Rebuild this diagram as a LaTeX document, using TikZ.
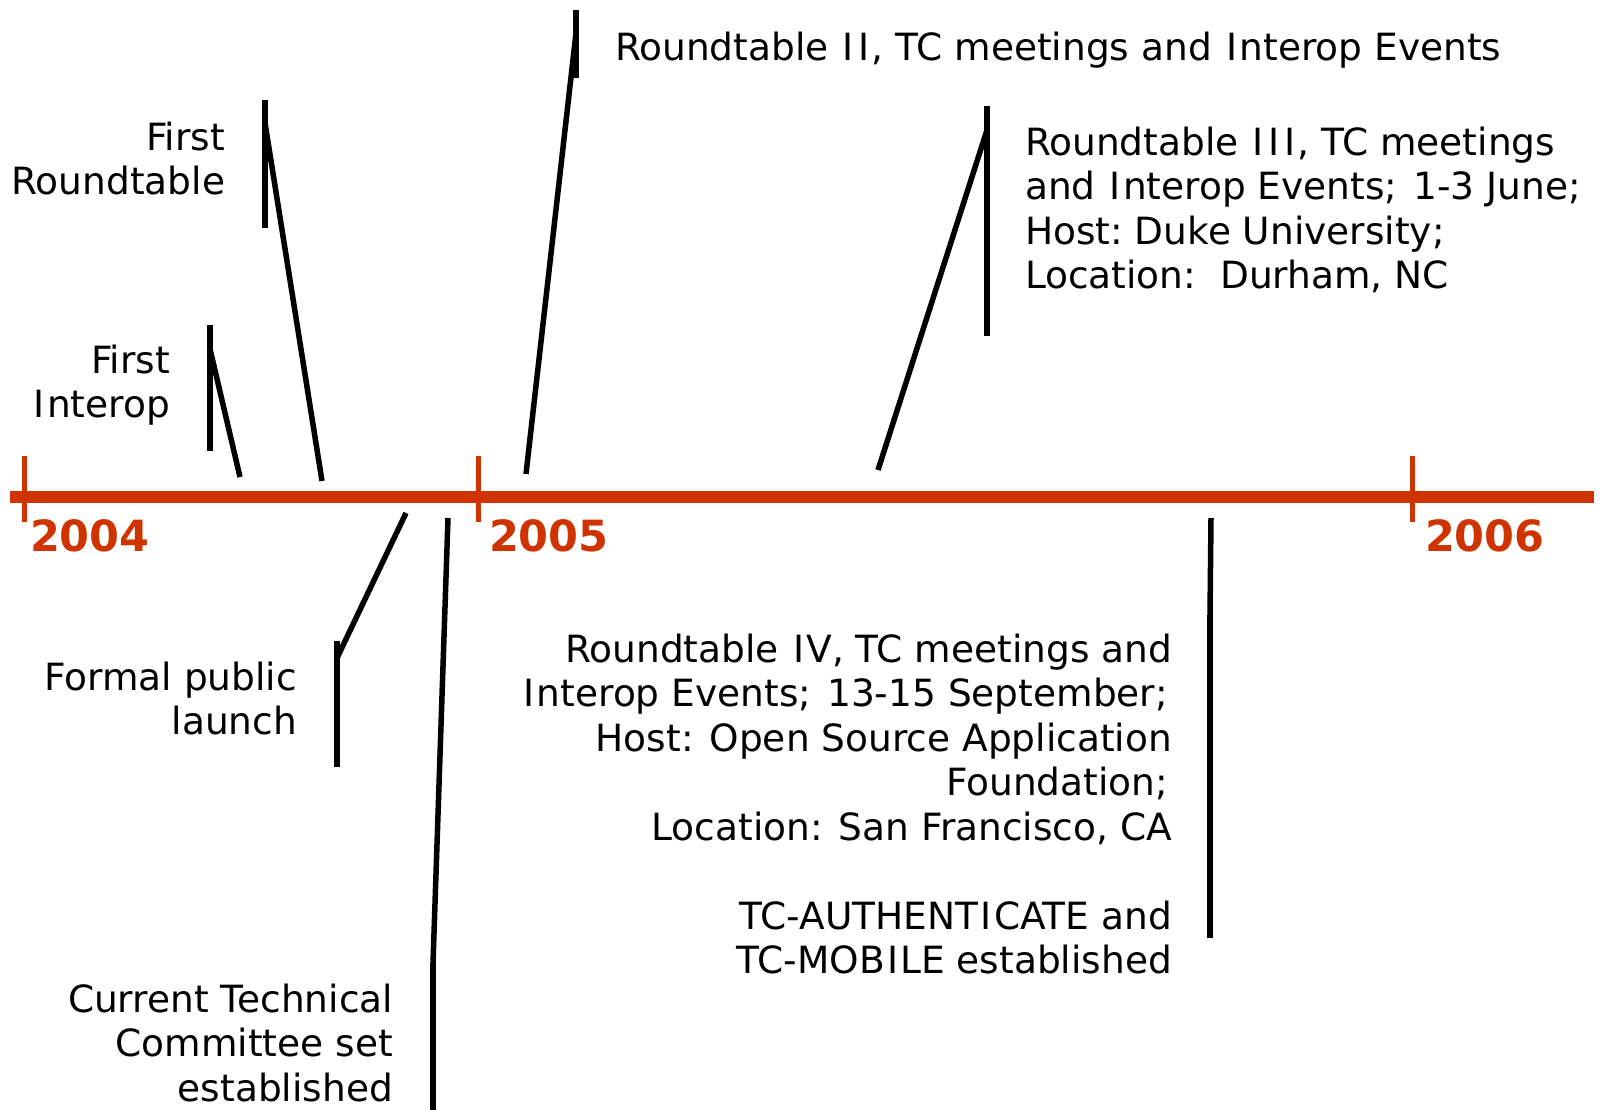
\documentclass[tikz,border=0pt]{standalone}
\usepackage{fontspec}
\setmainfont{DejaVu Sans}
\definecolor{tlred}{RGB}{207,51,0}
\newcommand{\lblfont}{\fontsize{37.5}{44.5}\selectfont}
\newcommand{\yrfont}{\fontsize{43}{50}\selectfont\bfseries}
\newcommand{\vI}{\kern2.3pt I\kern2.3pt}
\newcommand{\semi}{;\kern4pt}
\tikzset{
  lbl/.style={inner sep=0pt, outer sep=0pt, font=\lblfont, text=black},
  yearlbl/.style={inner sep=0pt, outer sep=0pt, font=\yrfont, text=tlred, anchor=base west},
  axisline/.style={draw=tlred, line width=12pt},
  tickmark/.style={draw=tlred, line width=5pt},
  accentbar/.style={draw=black, line width=6pt},
  leader/.style={draw=black, line width=5.5pt}
}
\begin{document}
\begin{tikzpicture}[x=1pt,y=-1pt]
\useasboundingbox (0,0) rectangle (1608,1109);

% ---- time axis ----
\coordinate (axL) at (10,497);
\coordinate (axR) at (1594,497);
\draw[axisline] (axL) -- (axR);
\coordinate (t4a) at (24.5,456); \coordinate (t4b) at (24.5,522);
\coordinate (t5a) at (478,456);  \coordinate (t5b) at (478,522);
\coordinate (t6a) at (1412,456); \coordinate (t6b) at (1412,522);
\draw[tickmark] (t4a) -- (t4b);
\draw[tickmark] (t5a) -- (t5b);
\draw[tickmark] (t6a) -- (t6b);
\node[yearlbl] (y2004) at (30,551) {2004};
\node[yearlbl] (y2005) at (489,551) {2005};
\node[yearlbl] (y2006) at (1425,551) {2006};

% ---- labels ----
\node[lbl, anchor=base east] (fInterop) at (170,373)
  {\begin{tabular}[t]{@{}r@{}}First\\\vI nterop\end{tabular}};
\node[lbl, anchor=base east] (fRound) at (225,150)
  {\begin{tabular}[t]{@{}r@{}}First\\Roundtable\end{tabular}};
\node[lbl, anchor=base west] (rt2) at (615,60)
  {Roundtable \vI\vI, TC meetings and \vI nterop Events};
\node[lbl, anchor=base west] (rt3) at (1025,155)
  {\begin{tabular}[t]{@{}l@{}}Roundtable \vI\vI\vI, TC meetings\\and \vI nterop Events\semi{}\ 1-3 June;\\Host:\ Duke University;\\Location:\ \ Durham, NC\end{tabular}};
\node[lbl, anchor=base east] (launch) at (297,690)
  {\begin{tabular}[t]{@{}r@{}}Formal public\\launch\end{tabular}};
\node[lbl, anchor=base east] (curTC) at (393,1012)
  {\begin{tabular}[t]{@{}r@{}}Current Technical\\Committee set\\established\end{tabular}};
\node[lbl, anchor=base east] (rt4) at (1172,662)
  {\begin{tabular}[t]{@{}r@{}}Roundtable \vI V, TC meetings and\\\vI nterop Events\semi{} 13-15 September\semi\\Host: Open Source Application\\Foundation\semi\\Location: San Francisco, CA\\ \\TC-AUTHENT\vI CATE and\\TC-MOB\vI LE established\end{tabular}};

% ---- callout geometry ----
% First Interop
\coordinate (iTop) at (210,325); \coordinate (iBot) at (210,451);
\coordinate (iJoin) at (210,349); \coordinate (iTip) at (240,477);
\draw[accentbar] (iTop) -- (iBot);
\draw[leader] (iJoin) -- (iTip);
% First Roundtable
\coordinate (rTop) at (265,100); \coordinate (rBot) at (265,228);
\coordinate (rJoin) at (265,123); \coordinate (rTip) at (322,481);
\draw[accentbar] (rTop) -- (rBot);
\draw[leader] (rJoin) -- (rTip);
% Roundtable II
\coordinate (r2Top) at (576,10); \coordinate (r2Bot) at (576,78);
\coordinate (r2Join) at (576,33); \coordinate (r2Tip) at (526,474);
\draw[accentbar] (r2Top) -- (r2Bot);
\draw[leader] (r2Join) -- (r2Tip);
% Roundtable III
\coordinate (r3Top) at (987,106); \coordinate (r3Bot) at (987,336);
\coordinate (r3Join) at (987,130); \coordinate (r3Tip) at (878,470);
\draw[accentbar] (r3Top) -- (r3Bot);
\draw[leader] (r3Join) -- (r3Tip);
% Formal public launch
\coordinate (lTop) at (337,641); \coordinate (lBot) at (337,767);
\coordinate (lJoin) at (337,658); \coordinate (lTip) at (406,513);
\draw[accentbar] (lTop) -- (lBot);
\draw[leader] (lJoin) -- (lTip);
% Current Technical Committee
\coordinate (cTip) at (448,518); \coordinate (cJoin) at (433,963);
\coordinate (cBot) at (433,1112);
\draw[leader] (cTip) -- (cJoin);
\draw[accentbar] (cJoin) -- (cBot);
% Roundtable IV
\coordinate (r4Tip) at (1211,518); \coordinate (r4Join) at (1210,615);
\coordinate (r4Bot) at (1210,938);
\draw[leader] (r4Tip) -- (r4Join);
\draw[accentbar] (r4Join) -- (r4Bot);
\end{tikzpicture}
\end{document}
